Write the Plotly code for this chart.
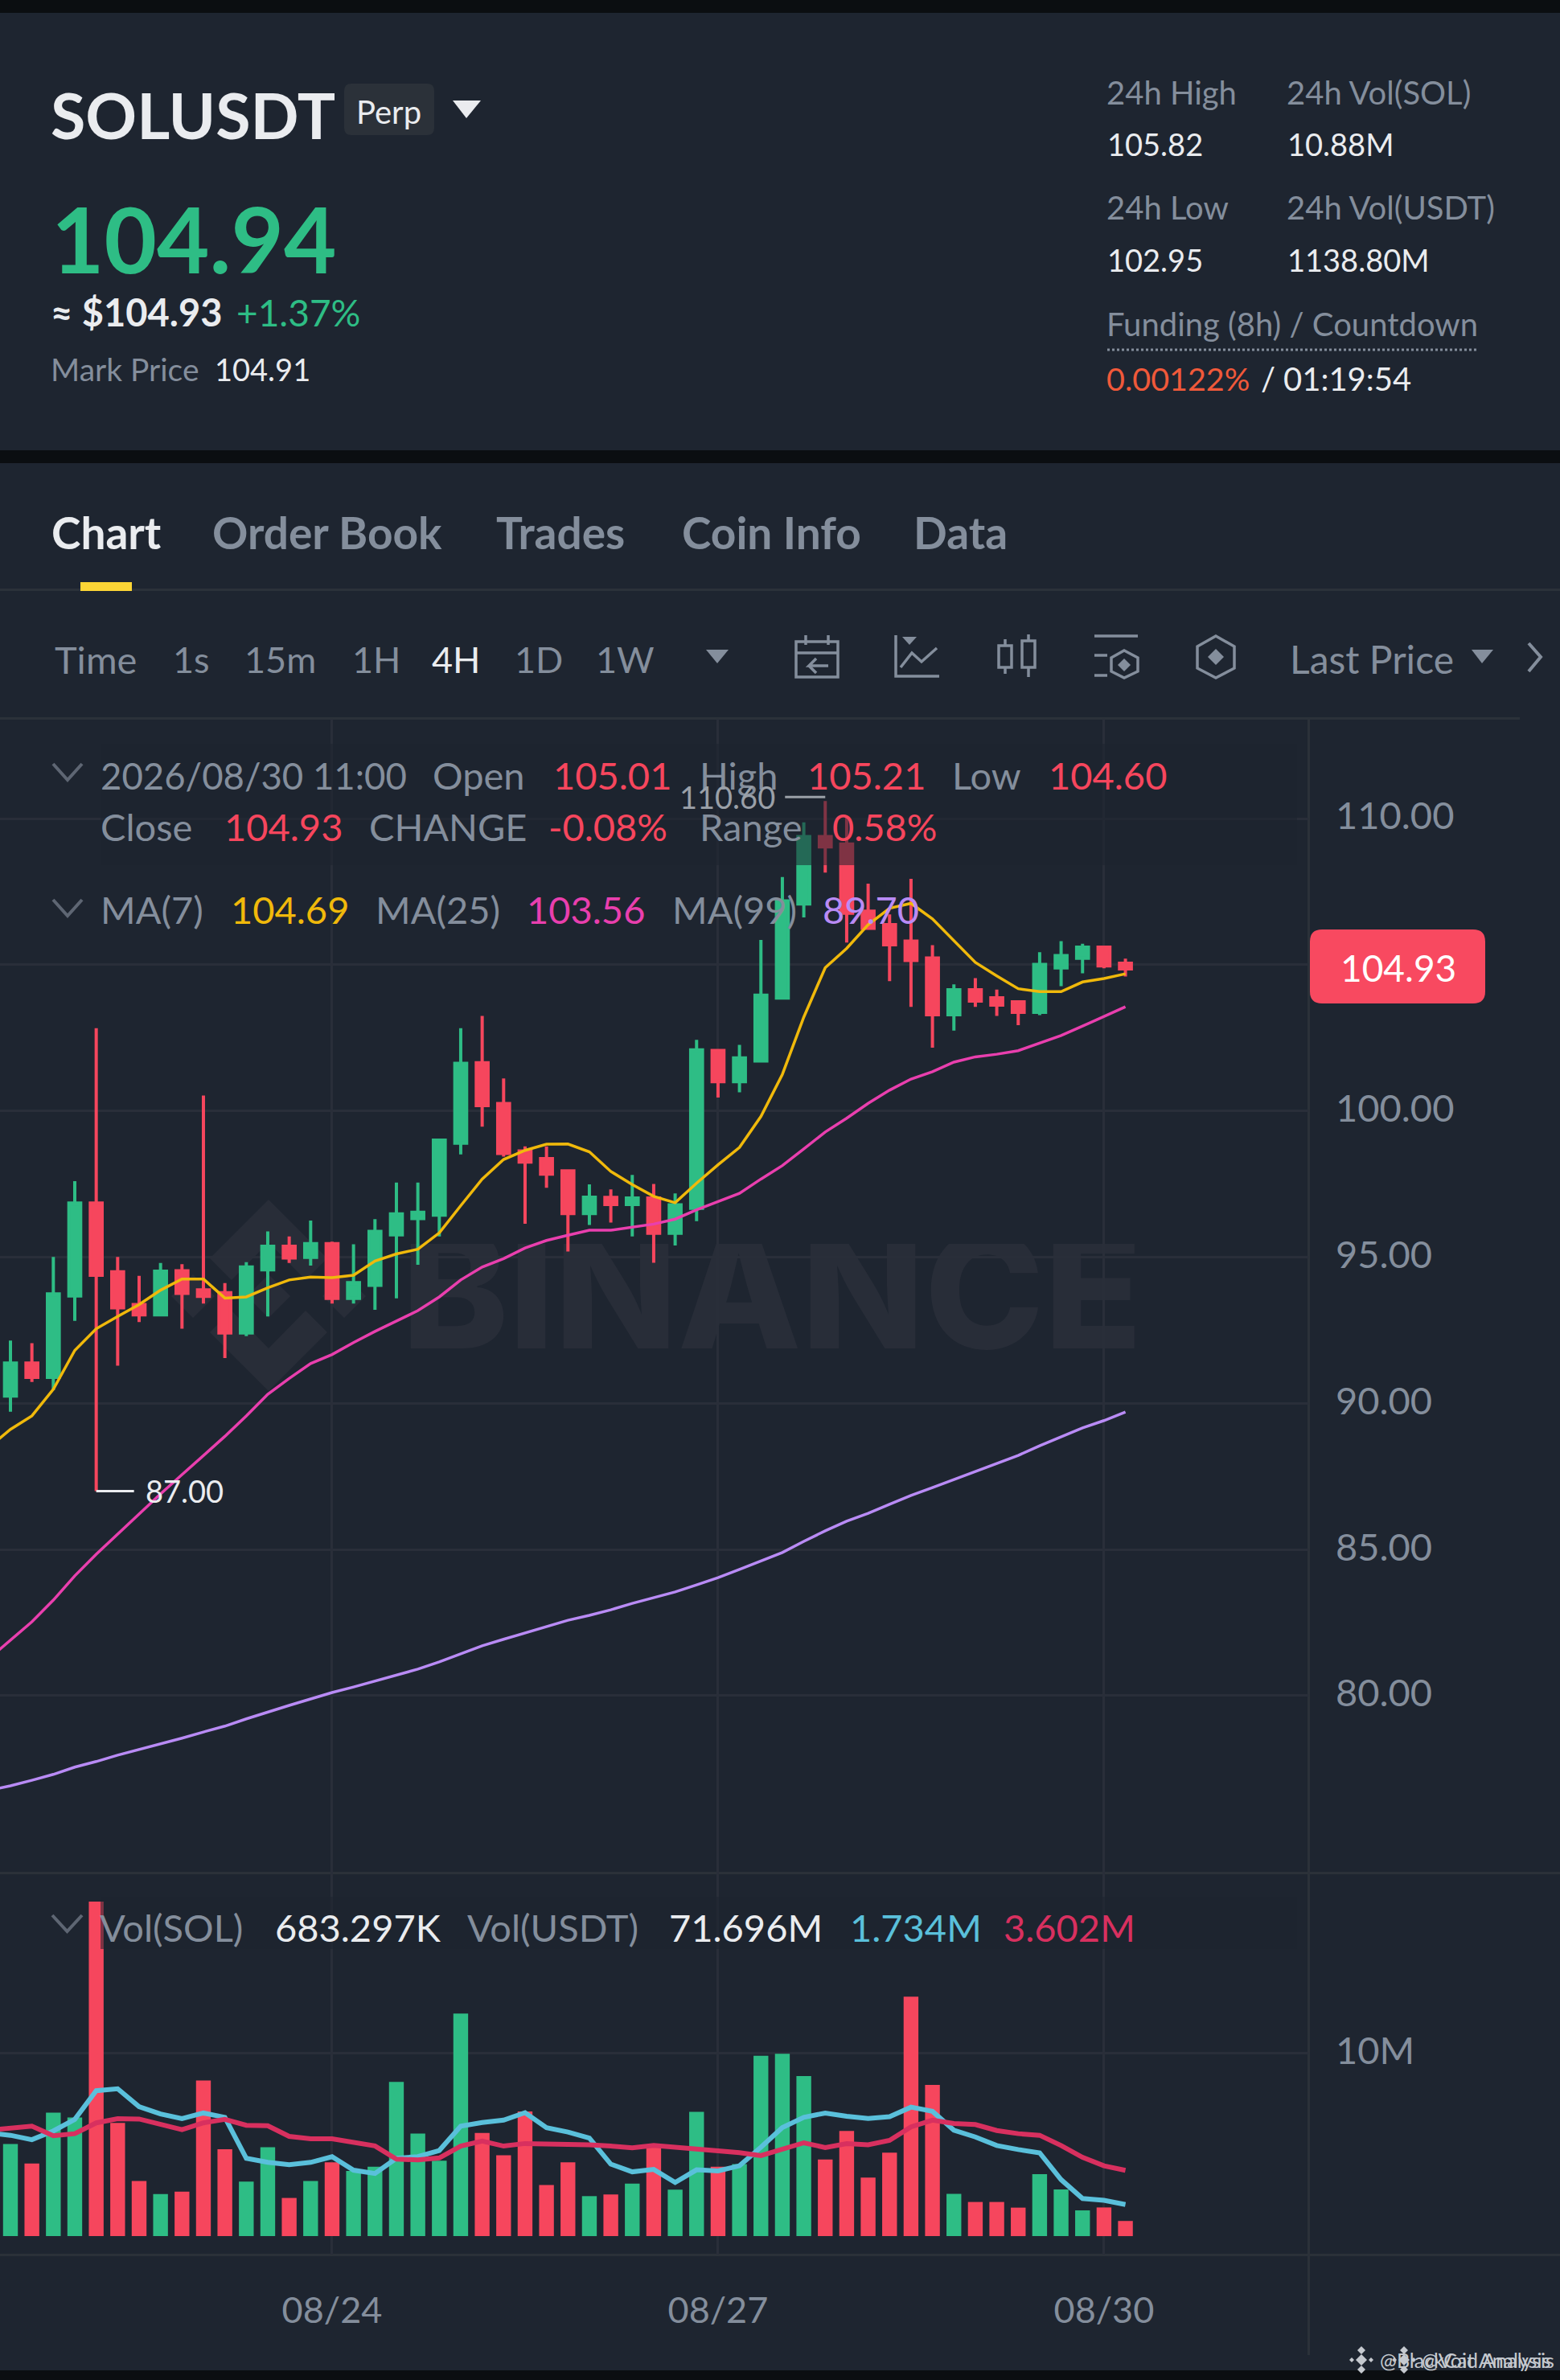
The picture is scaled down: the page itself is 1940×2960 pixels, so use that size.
import datetime as dt
import plotly.graph_objects as go

W, H = 1940, 2960
BG = "#1E2530"
BLACK = "#0B0E11"
LINE = "#2B3139"
GRID = "#292E39"
WHITE = "#EAECEF"
GRAY = "#848E9C"
UP = "#2EBD85"
DOWN = "#F6465D"
MA7_C = "#F0B90B"
MA25_C = "#E93FAE"
MA99_C = "#B98BF5"
VOL5_C = "#5AC0DB"
VOL10_C = "#D8305F"
FONT = "Lato"

# candles, 4h apart, first one 08/21 12:00
opens = [90.25, 91.38, 90.89, 93.67, 96.85, 94.50, 93.38, 93.03, 94.53, 93.88,
         93.78, 92.41, 94.57, 95.37, 94.99, 95.46, 93.59, 94.04, 95.76, 96.32,
         96.44, 98.90, 101.65, 100.25, 98.63, 98.37, 97.95, 96.49, 97.04, 96.80,
         97.02, 95.82, 96.67, 102.07, 101.00, 101.71, 103.86, 107.08, 109.38, 109.13,
         106.83, 106.37, 105.81, 105.23, 103.29, 104.14, 103.87, 103.73, 103.37, 104.89,
         105.22, 105.60, 105.05]
closes = [91.38, 90.89, 93.74, 96.85, 94.38, 93.27, 93.03, 94.52, 93.76, 93.66,
          92.41, 94.66, 95.37, 94.97, 95.46, 93.59, 94.13, 95.88, 96.48, 96.53,
          99.00, 101.63, 100.18, 98.55, 98.25, 97.84, 96.49, 97.05, 96.80, 97.02,
          95.82, 96.79, 102.09, 101.00, 101.81, 103.96, 107.18, 109.38, 109.03, 106.76,
          106.25, 105.68, 105.15, 103.29, 104.14, 103.76, 103.62, 103.37, 105.01, 105.31,
          105.60, 104.96, 104.86]
highs = [92.15, 92.06, 95.01, 97.60, 102.83, 95.01, 94.36, 94.80, 94.76, 100.53,
         94.11, 94.83, 95.88, 95.71, 96.25, 95.53, 95.44, 96.30, 97.55, 97.55,
         99.00, 102.83, 103.25, 101.11, 98.79, 98.79, 98.00, 97.49, 97.32, 97.81,
         97.50, 97.18, 102.43, 102.12, 102.26, 105.85, 108.00, 109.87, 110.60, 110.08,
         107.77, 106.72, 107.94, 105.67, 104.33, 104.54, 104.15, 103.73, 105.43, 105.81,
         105.72, 105.64, 105.21]
lows = [89.71, 90.73, 90.45, 92.82, 87.00, 91.29, 92.78, 93.03, 92.55, 93.41,
        91.55, 92.30, 92.97, 94.80, 94.71, 93.41, 93.41, 93.20, 93.59, 94.74,
        95.71, 98.51, 99.46, 98.44, 96.14, 97.37, 95.19, 96.10, 96.18, 95.71,
        94.81, 95.40, 96.23, 100.46, 100.64, 101.67, 103.86, 106.62, 108.15, 105.76,
        106.25, 104.44, 103.56, 102.16, 102.75, 103.56, 103.25, 102.93, 103.28, 104.27,
        104.71, 104.88, 104.60]

# moving averages start one candle earlier, off the left edge
ma7 = [88.50, 89.11, 89.57, 90.48, 91.81, 92.55, 92.97, 93.38, 93.87, 94.25, 94.25,
       93.60, 93.64, 93.95, 94.22, 94.32, 94.30, 94.38, 94.87, 95.11, 95.27,
       95.83, 96.76, 97.67, 98.34, 98.65, 98.86, 98.87, 98.60, 97.93, 97.48,
       97.08, 96.86, 97.53, 98.16, 98.75, 99.81, 101.25, 103.21, 104.90, 105.56,
       106.37, 106.93, 107.10, 106.57, 105.81, 105.08, 104.62, 104.18, 104.08, 104.08,
       104.41, 104.53, 104.69]
ma25 = [81.27, 81.90, 82.53, 83.27, 84.10, 84.84, 85.53, 86.22, 86.90, 87.56, 88.20,
        88.87, 89.57, 90.31, 90.85, 91.36, 91.67, 92.08, 92.46, 92.82, 93.17,
        93.64, 94.22, 94.66, 94.95, 95.31, 95.57, 95.75, 95.92, 95.92, 96.03,
        96.13, 96.30, 96.62, 96.90, 97.18, 97.67, 98.13, 98.70, 99.28, 99.75,
        100.26, 100.71, 101.09, 101.34, 101.67, 101.85, 101.94, 102.06, 102.33, 102.58,
        102.90, 103.24, 103.56]
ma99 = [76.76, 76.92, 77.11, 77.31, 77.56, 77.75, 77.97, 78.16, 78.35, 78.55, 78.76,
        78.96, 79.21, 79.45, 79.67, 79.89, 80.11, 80.30, 80.50, 80.71, 80.91,
        81.16, 81.43, 81.71, 81.93, 82.15, 82.37, 82.58, 82.75, 82.94, 83.16,
        83.36, 83.55, 83.79, 84.04, 84.32, 84.62, 84.90, 85.28, 85.64, 85.97,
        86.24, 86.55, 86.85, 87.12, 87.40, 87.67, 87.95, 88.22, 88.55, 88.85,
        89.16, 89.41, 89.70]

# volume in millions
volume = [5.04, 3.98, 6.76, 6.50, 18.31, 6.20, 3.02, 2.30, 2.43, 8.52,
          4.76, 2.98, 4.87, 2.09, 3.02, 4.04, 3.57, 3.80, 8.44, 5.61,
          4.13, 12.19, 5.65, 4.43, 6.83, 2.80, 4.04, 2.19, 2.28, 2.87,
          4.87, 2.54, 6.80, 3.80, 3.94, 9.87, 9.98, 8.76, 4.19, 5.76,
          3.20, 4.57, 13.11, 8.28, 2.31, 1.87, 1.87, 1.56, 3.39, 2.56,
          1.41, 1.57, 0.83]
vol_ma5 = [5.65, 5.52, 5.28, 5.76, 6.39, 7.96, 8.07, 7.09, 6.69, 6.43, 6.74,
           6.50, 4.26, 4.04, 3.91, 4.04, 4.35, 3.61, 3.43, 4.26, 4.35,
           4.69, 6.02, 6.22, 6.35, 6.76, 5.94, 5.70, 5.37, 3.94, 3.52,
           3.65, 2.94, 3.63, 3.57, 3.85, 4.87, 5.94, 6.50, 6.74, 6.56,
           6.44, 6.54, 7.06, 6.83, 5.80, 5.43, 4.96, 4.74, 4.56, 3.09,
           2.06, 1.96, 1.73]
vol_ma10 = [5.80, 5.91, 6.02, 5.50, 5.61, 6.20, 6.43, 6.41, 6.13, 5.83, 6.20,
            6.39, 6.07, 6.04, 5.46, 5.33, 5.33, 5.13, 4.94, 4.22, 4.17,
            4.28, 4.93, 5.20, 4.93, 5.07, 5.06, 5.00, 5.00, 4.93, 4.83,
            4.96, 4.87, 4.78, 4.63, 4.57, 4.41, 4.78, 5.11, 4.85, 5.06,
            5.00, 5.24, 5.98, 6.35, 6.17, 6.11, 5.78, 5.61, 5.52, 4.96,
            4.31, 3.85, 3.60]

price_ticks = [80, 85, 90, 95, 100, 105, 110]
date_ticks = ["2026-08-24", "2026-08-27", "2026-08-30"]
date_labels = ["08/24", "08/27", "08/30"]
intervals = ["1s", "15m", "1H", "4H", "1D", "1W"]

start = dt.datetime(2026, 8, 21, 12)
dates = [start + dt.timedelta(hours=4 * i) for i in range(len(opens))]
ma_dates = [start + dt.timedelta(hours=4 * (i - 1)) for i in range(len(ma7))]
x_range = ["2026-08-21 10:03:00", "2026-08-31 14:07:00"]


def fx(x):
    return x / W


def fy(y):
    return 1 - y / H


def poly(points, close=True):
    s = " ".join(("M" if i == 0 else "L") + f"{fx(x):.5f},{fy(y):.5f}" for i, (x, y) in enumerate(points))
    return s + (" Z" if close else "")


def round_rect(x0, y0, x1, y1, r):
    return (f"M{fx(x0 + r):.5f},{fy(y0):.5f} L{fx(x1 - r):.5f},{fy(y0):.5f} "
            f"Q{fx(x1):.5f},{fy(y0):.5f} {fx(x1):.5f},{fy(y0 + r):.5f} "
            f"L{fx(x1):.5f},{fy(y1 - r):.5f} Q{fx(x1):.5f},{fy(y1):.5f} {fx(x1 - r):.5f},{fy(y1):.5f} "
            f"L{fx(x0 + r):.5f},{fy(y1):.5f} Q{fx(x0):.5f},{fy(y1):.5f} {fx(x0):.5f},{fy(y1 - r):.5f} "
            f"L{fx(x0):.5f},{fy(y0 + r):.5f} Q{fx(x0):.5f},{fy(y0):.5f} {fx(x0 + r):.5f},{fy(y0):.5f} Z")


def diamond(cx, cy, r):
    return poly([(cx, cy - r), (cx + r, cy), (cx, cy + r), (cx - r, cy)])


shapes = []
annotations = []


def rect(x0, y0, x1, y1, color, layer="below", opacity=1):
    shapes.append(dict(type="rect", xref="paper", yref="paper", x0=fx(x0), x1=fx(x1), y0=fy(y0), y1=fy(y1),
                       fillcolor=color, line_width=0, layer=layer, opacity=opacity))


def fill_path(path, color, layer="below"):
    shapes.append(dict(type="path", xref="paper", yref="paper", path=path, fillcolor=color, line_width=0, layer=layer))


def stroke(path, color=GRAY, width=3.5):
    shapes.append(dict(type="path", xref="paper", yref="paper", path=path, line=dict(color=color, width=width),
                       layer="below"))


def label(text, x, y, size=47, color=GRAY, anchor="left", weight=400, family=FONT):
    if anchor == "left":
        x -= 2.5
    annotations.append(dict(text=text, x=fx(x), y=fy(y), xref="paper", yref="paper", showarrow=False,
                            xanchor=anchor, yanchor="middle", borderpad=0,
                            font=dict(family=family, size=size, color=color, weight=weight)))


# page bands
rect(0, 0, W, 16, BLACK)
rect(0, 560, W, 576, BLACK)
rect(0, 2948, W, H, BLACK)

# header
label("SOLUSDT", 64, 143, 79, WHITE, weight=700)
fill_path(round_rect(428, 104, 540, 168, 9), LINE)
label("Perp", 444, 139, 40, WHITE)
fill_path(poly([(563, 125), (598, 125), (580, 147)]), WHITE)
label("104.94", 65, 296, 113, UP, weight=700)
label("≈ $104.93", 64, 388, 47, WHITE, weight=700)
label("+1.37%", 295, 388, 46, UP)
label("Mark Price", 64, 459, 39, GRAY)
label("104.91", 268, 459, 38, WHITE)

for x, y, text, value, y2 in [(1377, 115, "24h High", "105.82", 179), (1601, 115, "24h Vol(SOL)", "10.88M", 179),
                              (1377, 258, "24h Low", "102.95", 323), (1601, 258, "24h Vol(USDT)", "1138.80M", 323)]:
    label(text, x, y, 40, GRAY)
    label(value, x + 1, y2, 38, WHITE)
label("Funding (8h) / Countdown", 1377, 403, 40, GRAY)
shapes.append(dict(type="line", xref="paper", yref="paper", x0=fx(1377), x1=fx(1836), y0=fy(435), y1=fy(435),
                   line=dict(color=GRAY, width=3, dash="dot"), layer="below"))
label("0.00122%", 1377, 471, 39.5, "#F0593A")
label("/", 1569, 471, 40, WHITE)
label("01:19:54", 1597, 471, 40, WHITE)

# tabs
for text, x, color, weight in [("Chart", 65, WHITE, 700), ("Order Book", 265, GRAY, 700), ("Trades", 618, GRAY, 700),
                               ("Coin Info", 849, GRAY, 700), ("Data", 1137, GRAY, 700)]:
    label(text, x, 662, 55, color, weight=weight)
rect(0, 732, W, 735, LINE)
rect(100, 724, 164, 735, "#FCD535")

# interval toolbar
label("Time", 69, 820, 47)
for text, x in zip(intervals, [216, 305, 439, 538, 641, 742]):
    label(text, x, 820, 45, WHITE if text == "4H" else GRAY)
fill_path(poly([(878, 808), (906, 808), (892, 825)]), GRAY)
label("Last Price", 1605, 820, 48)
fill_path(poly([(1830, 808), (1857, 808), (1843, 825)]), GRAY)
stroke(poly([(1901, 800), (1916, 817), (1901, 835)], close=False), GRAY, 4)
rect(0, 892, 1890, 895, LINE)

# toolbar icons
stroke(poly([(990, 798), (1042, 798), (1042, 842), (990, 842)]))
stroke(poly([(990, 812), (1042, 812)], close=False))
stroke(poly([(1002, 790), (1002, 802)], close=False))
stroke(poly([(1030, 790), (1030, 802)], close=False))
stroke(poly([(1030, 828), (1006, 828), (1015, 819)], close=False))
stroke(poly([(1006, 828), (1015, 837)], close=False))
stroke(poly([(1114, 790), (1114, 841), (1168, 841)], close=False))
stroke(poly([(1120, 830), (1134, 812), (1146, 823), (1165, 806)], close=False))
fill_path(poly([(1122, 792), (1140, 792), (1131, 802)]), GRAY)
stroke(poly([(1242, 803), (1258, 803), (1258, 830), (1242, 830)]))
stroke(poly([(1271, 797), (1287, 797), (1287, 830), (1271, 830)]))
stroke(poly([(1250, 795), (1250, 803)], close=False))
stroke(poly([(1250, 830), (1250, 838)], close=False))
stroke(poly([(1279, 789), (1279, 797)], close=False))
stroke(poly([(1279, 830), (1279, 842)], close=False))
stroke(poly([(1361, 791), (1415, 791)], close=False))
stroke(poly([(1361, 815), (1377, 815)], close=False))
stroke(poly([(1361, 840), (1377, 840)], close=False))
stroke(poly([(1398, 809), (1415, 818), (1415, 835), (1398, 843), (1382, 835), (1382, 818)]))
fill_path(diamond(1398, 827, 8), GRAY)
stroke(poly([(1512, 791), (1535, 804), (1535, 831), (1512, 843), (1489, 831), (1489, 804)]))
fill_path(diamond(1512, 817, 10), GRAY)

# watermark logo
MARK = "#282D38"
fill_path(poly([(334, 1492), (407, 1565), (380, 1592), (334, 1545), (288, 1592), (261, 1565)]), MARK)
fill_path(poly([(334, 1730), (407, 1657), (380, 1630), (334, 1677), (288, 1630), (261, 1657)]), MARK)
fill_path(diamond(240, 1612, 27), MARK)
fill_path(diamond(428, 1612, 27), MARK)
fill_path(diamond(334, 1612, 27), MARK)

# chart frame
rect(0, 2328, W, 2331, LINE)
rect(0, 2803, W, 2806, LINE)
rect(1626, 894, 1629, 2929, LINE)

# legend rows
chevrons = [(66, 950, 102, 970), (66, 1119, 102, 1139), (65, 2382, 102, 2402)]
for x0, y0, x1, y1 in chevrons:
    stroke(poly([(x0, y0), ((x0 + x1) / 2, y1), (x1, y0)], close=False), "#5E6673", 4)
rows = [("Open", 539, 964, GRAY), ("105.01", 689, 964, DOWN),
        ("High", 871, 964, GRAY), ("105.21", 1005, 964, DOWN), ("Low", 1185, 964, GRAY), ("104.60", 1305, 964, DOWN),
        ("Close", 126, 1028, GRAY), ("104.93", 280, 1028, DOWN), ("CHANGE", 460, 1028, GRAY),
        ("-0.08%", 683, 1028, DOWN), ("Range", 871, 1028, GRAY), ("0.58%", 1036, 1028, DOWN),
        ("MA(7)", 126, 1131, GRAY), ("104.69", 288, 1131, MA7_C), ("MA(25)", 468, 1131, GRAY),
        ("103.56", 656, 1131, MA25_C), ("MA(99)", 837, 1131, GRAY), ("89.70", 1024, 1131, MA99_C),
        ("Vol(SOL)", 125, 2397, GRAY), ("683.297K", 343, 2397, WHITE), ("Vol(USDT)", 582, 2397, GRAY),
        ("71.696M", 833, 2397, WHITE), ("1.734M", 1058, 2397, VOL5_C), ("3.602M", 1249, 2397, VOL10_C)]
label("2026/08/30 11:00", 126, 964, 45.5)
for text, x, y, color in rows:
    label(text, x, y, 47, color)

# legend panels dim what is under them
rect(125, 925, 1613, 1076, BG, layer="above", opacity=0.55)
rect(125, 2359, 1613, 2424, BG, layer="above", opacity=0.55)

# last price badge
fill_path(round_rect(1629, 1156, 1847, 1248, 15), "#F84960", layer="above")
label("104.93", 1739, 1203, 46, "#FFFFFF", anchor="center")

# reposted credit, two strings on top of each other in the picture
CREDIT = "#C5C9CF"
for cx in [1693, 1746]:
    fill_path(diamond(cx, 2935, 7), CREDIT)
    fill_path(diamond(cx - 12, 2935, 3), CREDIT)
    fill_path(diamond(cx + 12, 2935, 3), CREDIT)
    fill_path(diamond(cx, 2923, 5), CREDIT)
    fill_path(diamond(cx, 2947, 5), CREDIT)
label("@BlackCat Analysis", 1717, 2935, 25, CREDIT)
label("@Void Analysis", 1769, 2935, 25, CREDIT)

fig = go.Figure()

# watermark lives on its own subplot so the candles paint over it
fig.add_trace(go.Scatter(x=[0.5], y=[0.5], text=["BINANCE"], mode="text", xaxis="x", yaxis="y",
                         textfont=dict(family="Inter", size=200, color=MARK, weight=800),
                         hoverinfo="skip", showlegend=False))

fig.add_trace(go.Candlestick(x=dates, open=opens, high=highs, low=lows, close=closes, xaxis="x2", yaxis="y2",
                             increasing=dict(line=dict(color=UP, width=4), fillcolor=UP),
                             decreasing=dict(line=dict(color=DOWN, width=4), fillcolor=DOWN),
                             whiskerwidth=0, showlegend=False))
for values, color in [(ma99, MA99_C), (ma25, MA25_C), (ma7, MA7_C)]:
    fig.add_trace(go.Scatter(x=ma_dates, y=values, mode="lines", xaxis="x2", yaxis="y2",
                             line=dict(color=color, width=3.5), showlegend=False))

bar_colors = [UP if c >= o else DOWN for o, c in zip(opens, closes)]
fig.add_trace(go.Bar(x=dates, y=volume, xaxis="x3", yaxis="y3", marker=dict(color=bar_colors, line_width=0),
                     showlegend=False))
for values, color in [(vol_ma5, VOL5_C), (vol_ma10, VOL10_C)]:
    fig.add_trace(go.Scatter(x=ma_dates, y=values, mode="lines", xaxis="x3", yaxis="y3",
                             line=dict(color=color, width=6), showlegend=False))

# high and low markers
annotations.append(dict(text="87.00", x=dates[lows.index(min(lows))], y=min(lows), xref="x2", yref="y2",
                        showarrow=True, arrowhead=0, arrowwidth=3, arrowcolor=WHITE, ax=47, ay=0, xanchor="left",
                        borderpad=13, font=dict(family=FONT, size=38, color=WHITE)))
annotations.append(dict(text="110.60", x=dates[highs.index(max(highs))], y=max(highs), xref="x2", yref="y2",
                        showarrow=True, arrowhead=0, arrowwidth=3, arrowcolor="#9AA0A8", ax=-50, ay=0,
                        xanchor="right", borderpad=11, yshift=5, font=dict(family=FONT, size=38, color="#9AA0A8")))

price_font = dict(family=FONT, size=47, color=GRAY)
date_font = dict(family=FONT, size=45, color=GRAY)
price_top = fy(894)
price_bottom = fy(2329)
vol_bottom = fy(2804)
x_end = fx(1627)

fig.update_layout(
    width=W, height=H,
    margin=dict(l=0, r=0, t=0, b=0),
    paper_bgcolor=BG, plot_bgcolor="rgba(0,0,0,0)",
    showlegend=False,
    boxgap=0.45, boxgroupgap=0, bargap=0.31,
    shapes=shapes, annotations=annotations,
    xaxis=dict(domain=[fx(505), fx(1415)], anchor="y", range=[0, 1], visible=False, fixedrange=True),
    yaxis=dict(domain=[fy(1707), fy(1547)], anchor="x", range=[0, 1], visible=False, fixedrange=True),
    xaxis2=dict(domain=[0, x_end], anchor="y2", type="date", range=x_range, rangeslider_visible=False,
                tickmode="array", tickvals=date_ticks, showticklabels=False, showgrid=True, gridcolor=GRID,
                gridwidth=3, zeroline=False, showline=False, ticks=""),
    yaxis2=dict(domain=[price_bottom, price_top], anchor="x2", side="right", range=[73.95, 113.41],
                tickmode="array", tickvals=price_ticks, tickformat=".2f", tickfont=price_font, ticklabelstandoff=33,
                ticklabelshift=-3, showgrid=True, gridcolor=GRID, gridwidth=3, zeroline=False, showline=False, ticks=""),
    xaxis3=dict(domain=[0, x_end], anchor="y3", type="date", range=x_range, tickmode="array", tickvals=date_ticks,
                ticktext=date_labels, tickfont=date_font, ticklabelstandoff=39, showgrid=True, gridcolor=GRID,
                gridwidth=3, zeroline=False, showline=False, ticks=""),
    yaxis3=dict(domain=[vol_bottom, price_bottom], anchor="x3", side="right", range=[-1.01, 19.9],
                tickmode="array", tickvals=[10], ticktext=["10M"], tickfont=price_font, ticklabelstandoff=33,
                ticklabelshift=-3, showgrid=True, gridcolor=GRID, gridwidth=3, zeroline=False, showline=False, ticks=""),
)

fig.write_html("out.html", config={"displayModeBar": False}, post_script="document.body.style.margin = '0';")
